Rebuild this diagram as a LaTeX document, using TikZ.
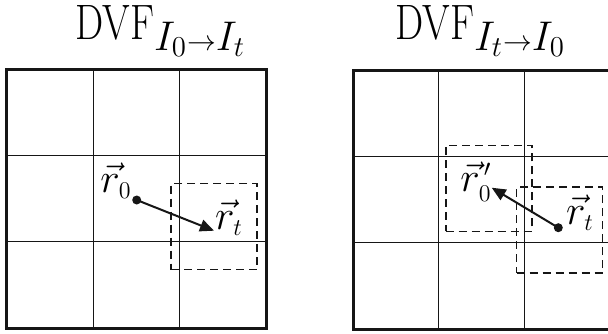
\documentclass[tikz,border=0pt]{standalone}
\usepackage{amsmath}
\usetikzlibrary{arrows.meta}
\DeclareMathSizes{24.88}{24.88}{20.74}{14.4}
\DeclareMathSizes{20.74}{20.74}{12}{10}
\definecolor{ink}{HTML}{161616}
\newcommand{\dvf}{\scalebox{0.8}[1]{$\mathrm{DVF}$}}
\tikzset{
  >={Triangle[length=7pt,width=6pt]},
  frame/.style={draw=ink, line width=1.5pt},
  cell/.style={draw=ink, line width=0.45pt},
  win/.style={draw=ink, line width=0.8pt, dash pattern=on 4pt off 2.5pt,
    minimum size=43pt, inner sep=0pt},
  flow/.style={->, draw=ink, line width=1pt},
  pix/.style={circle, fill=ink, inner sep=0pt, minimum size=4.5pt},
  ttl/.style={font=\fontsize{24.88}{30}\selectfont, anchor=base west, inner sep=0pt},
  vlbl/.style={font=\fontsize{20.74}{25}\selectfont, inner sep=0pt},
}
\begin{document}
\begin{tikzpicture}[x=0.5pt, y=-0.5pt]
  \clip (0,0) rectangle (608,333);
  \useasboundingbox (0,0) rectangle (608,333);

  % ---------------- forward field I_0 -> I_t ----------------
  \node[ttl] (ttlA) at (75,39) {\dvf$_{I_0{\scriptscriptstyle\to}I_t}$};
  \begin{scope}[shift={(6.7,69)}]
    \foreach \k in {1,2} {
      \draw[cell] (\k*86.4,0) -- (\k*86.4,259.3);
      \draw[cell] (0,\k*86.4) -- (259.3,\k*86.4);
    }
    \draw[frame] (0,0) rectangle (259.3,259.3);
  \end{scope}
  \node[win] (winA) at (214,226.5) {};
  \node[pix] (srcA) at (136.7,200) {};
  \coordinate (tgtA) at (214,230.7);
  \draw[flow] (srcA.center) -- (tgtA);
  \node[vlbl] (lblA0) at (116,181) {$\vec{r}_0$};
  \node[vlbl] (lblAt) at (229,218) {$\vec{r}_t$};

  % ---------------- backward field I_t -> I_0 ----------------
  \node[ttl] (ttlB) at (395,39) {\dvf$_{I_t{\scriptscriptstyle\to}I_0}$};
  \begin{scope}[shift={(353.3,70)}]
    \foreach \k in {1,2} {
      \draw[cell] (\k*85.5,0) -- (\k*85.5,259.3);
      \draw[cell] (0,\k*86.4) -- (259.3,\k*86.4);
    }
    \draw[frame] (0,0) rectangle (259.3,259.3);
  \end{scope}
  \node[win] (winB0) at (488.7,188.3) {};
  \node[win] (winBt) at (559.5,230) {};
  \node[pix] (srcB) at (558.3,227.7) {};
  \coordinate (tgtB) at (491.7,187.7);
  \draw[flow] (srcB.center) -- (tgtB);
  \node[vlbl] (lblB0) at (476,182) {${\vec{r}}^{\,\prime}_0$};
  \node[vlbl] (lblBt) at (580,213) {$\vec{r}_t$};
\end{tikzpicture}
\end{document}
